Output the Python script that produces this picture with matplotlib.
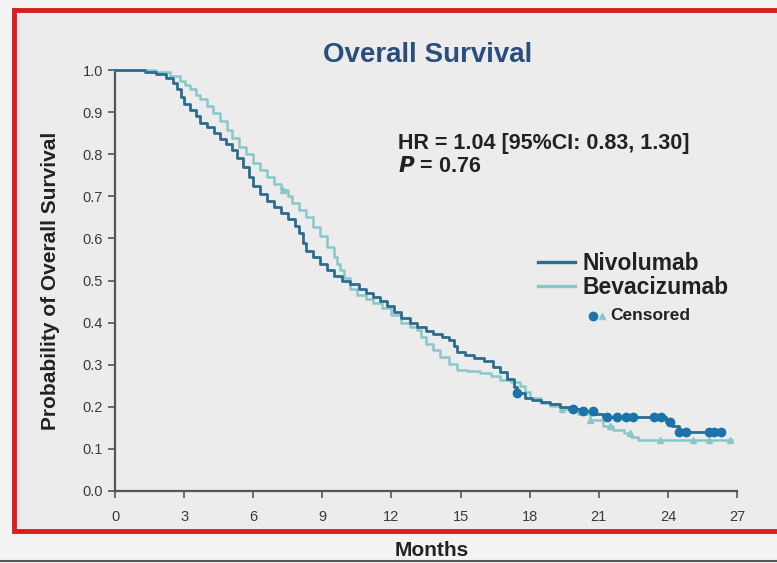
import numpy as np
import matplotlib.pyplot as plt
from matplotlib.patches import Rectangle
from matplotlib.lines import Line2D

plt.rcParams['font.family'] = ['Liberation Sans', 'DejaVu Sans']

# Kaplan-Meier step points (months, survival)
nivo_t = [0, 1.3, 1.8, 2.2, 2.5, 2.7, 2.85, 3.0, 3.25, 3.5, 3.7, 4.0, 4.3, 4.55, 4.8, 5.1,
          5.3, 5.55, 5.8, 6.0, 6.3, 6.6, 6.9, 7.2, 7.5, 7.8, 8.0, 8.15, 8.3, 8.6, 8.9, 9.2,
          9.5, 9.85, 10.2, 10.6, 10.9, 11.2, 11.5, 11.8, 12.1, 12.4, 12.8, 13.1, 13.5, 13.8,
          14.2, 14.5, 14.7, 14.85, 15.2, 15.6, 16.0, 16.4, 16.7, 17.0, 17.3, 17.45, 17.8,
          18.1, 18.5, 18.9, 19.3, 19.7, 20.3, 20.8, 21.2, 23.9, 24.2, 24.5, 26.4]
nivo_s = [1.0, 0.995, 0.99, 0.98, 0.97, 0.955, 0.935, 0.92, 0.905, 0.89, 0.875, 0.865, 0.85,
          0.835, 0.825, 0.81, 0.79, 0.77, 0.745, 0.725, 0.705, 0.69, 0.675, 0.66, 0.645, 0.63,
          0.613, 0.59, 0.57, 0.555, 0.54, 0.525, 0.51, 0.5, 0.492, 0.48, 0.47, 0.46, 0.452,
          0.44, 0.425, 0.41, 0.398, 0.39, 0.38, 0.373, 0.365, 0.358, 0.345, 0.33, 0.322,
          0.315, 0.308, 0.295, 0.282, 0.265, 0.248, 0.232, 0.222, 0.216, 0.212, 0.207, 0.2,
          0.195, 0.19, 0.182, 0.176, 0.165, 0.155, 0.14, 0.14]
nivo_cens_t = [17.45, 19.9, 20.3, 20.75, 21.35, 21.8, 22.2, 22.5, 23.4, 23.7, 24.1, 24.5,
               24.8, 25.8, 26.0, 26.3]

bev_t = [0, 1.8, 2.4, 2.8, 3.05, 3.25, 3.5, 3.7, 4.0, 4.25, 4.55, 4.85, 5.1, 5.4, 5.7, 6.0,
         6.3, 6.6, 6.9, 7.2, 7.5, 7.7, 8.0, 8.3, 8.6, 8.9, 9.2, 9.5, 9.65, 9.75, 9.95, 10.2,
         10.5, 10.9, 11.2, 11.6, 12.0, 12.4, 12.8, 13.1, 13.3, 13.5, 13.8, 14.1, 14.5, 14.85,
         15.3, 15.85, 16.3, 16.7, 17.2, 17.6, 17.8, 18.0, 18.5, 18.9, 19.3, 19.7, 20.1, 20.6,
         21.2, 21.6, 22.1, 22.4, 22.7, 26.8]
bev_s = [1.0, 0.995, 0.985, 0.975, 0.965, 0.955, 0.94, 0.93, 0.915, 0.898, 0.878, 0.858,
         0.838, 0.818, 0.8, 0.78, 0.763, 0.746, 0.73, 0.715, 0.7, 0.685, 0.668, 0.65, 0.628,
         0.605, 0.58, 0.556, 0.54, 0.525, 0.505, 0.48, 0.465, 0.455, 0.446, 0.435, 0.418,
         0.4, 0.39, 0.382, 0.365, 0.35, 0.335, 0.318, 0.302, 0.288, 0.284, 0.28, 0.272, 0.264,
         0.258, 0.25, 0.235, 0.222, 0.21, 0.202, 0.195, 0.19, 0.182, 0.168, 0.155, 0.145,
         0.138, 0.128, 0.121, 0.121]
bev_cens_t = [7.3, 19.4, 20.6, 21.5, 22.35, 23.65, 25.1, 25.8, 26.7]

x_ticks = [0, 3, 6, 9, 12, 15, 18, 21, 24, 27]
y_ticks = [0.0, 0.1, 0.2, 0.3, 0.4, 0.5, 0.6, 0.7, 0.8, 0.9, 1.0]

nivo_col = '#2c6d8d'
nivo_dot = '#1a73ab'
bev_col = '#8ac7c9'


def surv_at(ts, ss, t):
    i = np.searchsorted(ts, t, side='right') - 1
    return ss[i]


fig = plt.figure(figsize=(7.77, 5.63), dpi=100, facecolor='#f3f3f3')
# red frame with grey panel
frame = Rectangle((14 / 777, 1 - 531 / 563), 1.0, (531 - 10) / 563,
                  transform=fig.transFigure, facecolor='#ececec',
                  edgecolor='#d61f1f', linewidth=3.5, zorder=-5)
fig.add_artist(frame)
fig.add_artist(Line2D([0, 1], [1 - 561 / 563] * 2, transform=fig.transFigure,
                      color='#555555', linewidth=1.5))

ax = fig.add_axes([115 / 777, 1 - 491 / 563, (737 - 115) / 777, (491 - 70) / 563])
ax.set_zorder(2)
ax.set_facecolor('none')

ax.step(bev_t, bev_s, where='post', color=bev_col, lw=1.8, clip_on=False, zorder=3)
ax.step(nivo_t, nivo_s, where='post', color=nivo_col, lw=2.0, clip_on=False, zorder=4)
ax.plot(bev_cens_t, [surv_at(bev_t, bev_s, t) for t in bev_cens_t], '^', color=bev_col,
        ms=5, clip_on=False, zorder=3)
ax.plot(nivo_cens_t, [surv_at(nivo_t, nivo_s, t) for t in nivo_cens_t], 'o', color=nivo_dot,
        ms=6, clip_on=False, zorder=5)

ax.set_xlim(0, 27)
ax.set_ylim(0, 1)
ax.set_xticks(x_ticks)
ax.set_yticks(y_ticks)
ax.set_yticklabels([f'{v:.1f}' for v in y_ticks])
for s in ['top', 'right']:
    ax.spines[s].set_visible(False)
for s in ['left', 'bottom']:
    ax.spines[s].set_color('#555555')
    ax.spines[s].set_linewidth(1.6)
ax.tick_params(colors='#555555', labelcolor='#3a3a3a', labelsize=10.5, length=5, width=1.2)
ax.tick_params(axis='x', pad=9)

ax.set_ylabel('Probability of Overall Survival', fontsize=15, fontweight='bold',
              color='#222222', labelpad=16)
fig.text(432 / 777, 1 - 551 / 563, 'Months', ha='center', va='center', fontsize=15,
         fontweight='bold', color='#222222')

fig.text(428 / 777, 1 - 55 / 563, 'Overall Survival', ha='center', va='center',
         fontsize=20, fontweight='bold', color='#2b4d7e')

fig.text(398 / 777, 1 - 143 / 563, 'HR = 1.04 [95%CI: 0.83, 1.30]', ha='left', va='center',
         fontsize=15.5, fontweight='bold', color='#222222')
fig.text(398 / 777, 1 - 166 / 563, '$\\bfit{P}$ = 0.76', ha='left', va='center',
         fontsize=15.5, fontweight='bold', color='#222222')

# legend drawn by hand
fig.add_artist(Line2D([538 / 777, 575 / 777], [1 - 262 / 563] * 2, transform=fig.transFigure,
                      color=nivo_col, lw=2.4))
fig.add_artist(Line2D([538 / 777, 575 / 777], [1 - 286 / 563] * 2, transform=fig.transFigure,
                      color=bev_col, lw=2.4))
fig.text(582 / 777, 1 - 263 / 563, 'Nivolumab', ha='left', va='center', fontsize=16.5,
         fontweight='bold', color='#222222')
fig.text(582 / 777, 1 - 287 / 563, 'Bevacizumab', ha='left', va='center', fontsize=16.5,
         fontweight='bold', color='#222222')
fig.add_artist(Line2D([593 / 777], [1 - 316 / 563], transform=fig.transFigure, marker='o',
                      color=nivo_dot, ms=6))
fig.add_artist(Line2D([602 / 777], [1 - 316 / 563], transform=fig.transFigure, marker='^',
                      color=bev_col, ms=5))
fig.text(610 / 777, 1 - 316 / 563, 'Censored', ha='left', va='center', fontsize=12.5,
         fontweight='bold', color='#222222')

fig.savefig('out.png', dpi=100, facecolor=fig.get_facecolor())
